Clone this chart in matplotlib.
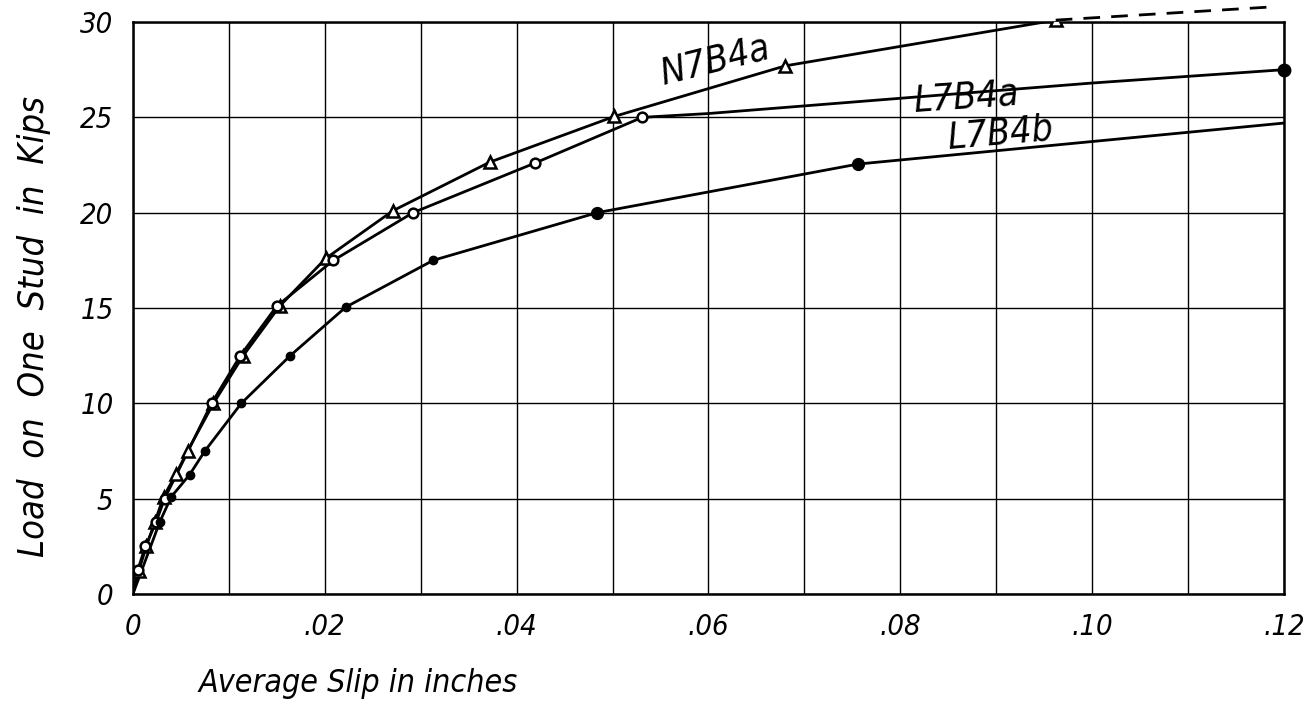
import matplotlib
matplotlib.use("Agg")
from matplotlib import pyplot as plt
from matplotlib.ticker import MultipleLocator
from matplotlib import font_manager

# N7B4a - open triangles
n7b4a_slip = [0, 0.0006, 0.0014, 0.0023, 0.0032, 0.0045, 0.0057, 0.0084, 0.0115, 0.0153, 0.0201, 0.0271, 0.0372, 0.0502, 0.0680, 0.0962]
n7b4a_load = [0, 1.2, 2.5, 3.8, 5.1, 6.3, 7.5, 10.0, 12.5, 15.1, 17.6, 20.1, 22.65, 25.05, 27.7, 30.1]
# dashed extension beyond last point
n7b4a_ext_slip = [0.0962, 0.119]
n7b4a_ext_load = [30.1, 30.8]

# L7B4a - open circles, ends with filled dot
l7b4a_slip = [0, 0.0005, 0.0013, 0.0024, 0.0033, 0.0082, 0.0112, 0.0150, 0.0209, 0.0292, 0.0419, 0.0531]
l7b4a_load = [0, 1.25, 2.5, 3.75, 5.0, 10.0, 12.5, 15.1, 17.5, 20.0, 22.6, 25.0]
l7b4a_tail_slip = [0.0531, 0.060, 0.080, 0.100, 0.120]
l7b4a_tail_load = [25.0, 25.2, 26.0, 26.8, 27.5]

# L7B4b - filled dots
l7b4b_slip = [0, 0.0028, 0.0040, 0.0059, 0.0075, 0.0113, 0.0164, 0.0222, 0.0313, 0.0484, 0.0756]
l7b4b_load = [0, 3.78, 5.1, 6.25, 7.5, 10.0, 12.5, 15.05, 17.5, 20.0, 22.55]
l7b4b_tail_slip = [0.0756, 0.120]
l7b4b_tail_load = [22.55, 24.7]

x_ticks = [0, 0.02, 0.04, 0.06, 0.08, 0.10, 0.12]
x_tick_labels = ["0", ".02", ".04", ".06", ".08", ".10", ".12"]
y_ticks = [0, 5, 10, 15, 20, 25, 30]

hand = dict(family="DejaVu Sans", style="italic", stretch="condensed")

fig = plt.figure(figsize=(13.16, 7.10), dpi=100)
ax = fig.add_axes([0.101, 0.1634, 0.8747, 0.8056])

lw = 2.0
# N7B4a
ax.plot(n7b4a_slip, n7b4a_load, "-", color="black", lw=lw, zorder=3)
ax.plot(n7b4a_slip[1:], n7b4a_load[1:], "^", ms=8, mfc="white", mec="black", mew=1.8, zorder=4)
ax.plot(n7b4a_ext_slip, n7b4a_ext_load, "--", color="black", lw=lw, dashes=(6, 4), clip_on=False, zorder=3)

# L7B4a
ax.plot(l7b4a_slip, l7b4a_load, "-", color="black", lw=lw, zorder=3)
ax.plot(l7b4a_tail_slip, l7b4a_tail_load, "-", color="black", lw=lw, zorder=3)
ax.plot(l7b4a_slip[1:], l7b4a_load[1:], "o", ms=7, mfc="white", mec="black", mew=1.8, zorder=4)
ax.plot(l7b4a_tail_slip[-1:], l7b4a_tail_load[-1:], "o", ms=9, color="black", clip_on=False, zorder=4)

# L7B4b
ax.plot(l7b4b_slip, l7b4b_load, "-", color="black", lw=lw, zorder=3)
ax.plot(l7b4b_tail_slip, l7b4b_tail_load, "-", color="black", lw=lw, zorder=3)
ax.plot(l7b4b_slip[1:-2], l7b4b_load[1:-2], "o", ms=6, color="black", zorder=4)
ax.plot(l7b4b_slip[-2:], l7b4b_load[-2:], "o", ms=8.5, color="black", zorder=4)

# curve names
ax.text(0.0607, 27.95, "N7B4a", fontsize=27, rotation=14, ha="center", va="center", **hand)
ax.text(0.0868, 26.0, "L7B4a", fontsize=27, rotation=4, ha="center", va="center", **hand)
ax.text(0.0904, 24.15, "L7B4b", fontsize=27, rotation=5, ha="center", va="center", **hand)

ax.set_xlim(0, 0.12)
ax.set_ylim(0, 30)
ax.set_xticks(x_ticks)
ax.set_xticklabels(x_tick_labels)
ax.set_yticks(y_ticks)
ax.xaxis.set_minor_locator(MultipleLocator(0.01))
ax.grid(True, which="both", axis="x", color="black", lw=1.0)
ax.grid(True, which="major", axis="y", color="black", lw=1.0)
ax.set_axisbelow(True)
ax.tick_params(axis="both", which="both", length=0)
ax.tick_params(axis="x", pad=14)
ax.tick_params(axis="y", pad=14)
for lab in ax.get_xticklabels() + ax.get_yticklabels():
    lab.set_fontproperties(font_manager.FontProperties(size=21, **hand))
for s in ax.spines.values():
    s.set_linewidth(1.8)

fig.text(0.272, 0.037, "Average Slip in inches", fontsize=23, ha="center", va="center", **hand)
fig.text(0.026, 0.54, "Load  on  One  Stud  in  Kips", fontsize=26, rotation=90, ha="center", va="center", **hand)

fig.savefig("out.png", dpi=100)
